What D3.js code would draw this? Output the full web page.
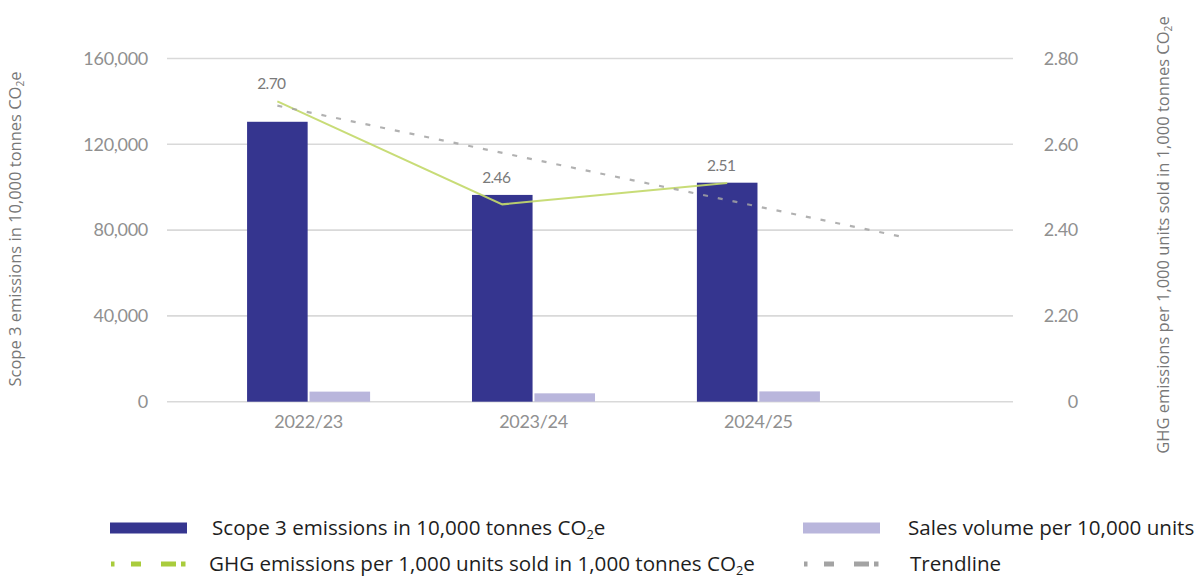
<!DOCTYPE html>
<html>
<head>
<meta charset="utf-8">
<script src="https://cdn.jsdelivr.net/npm/d3@7"></script>
<style>
  html, body { margin: 0; padding: 0; background: #ffffff; }
  svg { display: block; }
</style>
</head>
<body>
<svg id="chart" width="1201" height="578"></svg>
<script>
// ---- data ----
const categories = ["2022/23", "2023/24", "2024/25"];
const scope3Emissions = [130500, 96400, 102100];   // 10,000 tonnes CO2e
const salesVolume = [4700, 3900, 4800];            // per 10,000 units
const ghgPerUnit = [2.70, 2.46, 2.51];             // per 1,000 units sold, 1,000 tonnes CO2e
const trendValues = [2.69, 2.58, 2.47];            // linear trend of ghgPerUnit
const trendForecast = 0.78;                        // forward forecast, in periods
const leftTicks = [0, 40000, 80000, 120000, 160000];
const rightTicks = [2.0, 2.2, 2.4, 2.6, 2.8];

// ---- styling ----
const C = {
  scope3: "#35358f",
  sales: "#b9b6dc",
  ghg: "#c3d96b",
  ghgLegend: "#a9cc3c",
  trend: "#a3a3a3",
  grid: "#d9d9d9",
  tick: "#909090",
  title: "#777777",
  legendText: "#1e1e1e"
};
const tickFont = "Lato, 'Noto Sans', sans-serif";
const textFont = "'Open Sans', 'Noto Sans', sans-serif";

const svg = d3.select("#chart");

const plot = { left: 167, right: 1013, top: 58.5, bottom: 401.7 };

const yLeft = d3.scaleLinear().domain([0, 160000]).range([plot.bottom, plot.top]);
const yRight = d3.scaleLinear().domain([2.0, 2.8]).range([plot.bottom, plot.top]);

const x = d3.scaleBand().domain(categories).range([plot.left, 900])
  .paddingInner(0.453).paddingOuter(0.356);
const xSub = d3.scaleBand().domain(["scope3", "sales"]).range([0, x.bandwidth()])
  .paddingInner(0.03);

const lineX = c => x(c) + xSub("scope3") + xSub.bandwidth() / 2;
const periodX = d3.scaleLinear().domain([0, 1]).range([lineX(categories[0]), lineX(categories[1])]);

// ---- gridlines ----
svg.append("g").selectAll("line").data(leftTicks).join("line")
  .attr("x1", plot.left).attr("x2", plot.right)
  .attr("y1", d => yLeft(d)).attr("y2", d => yLeft(d))
  .attr("stroke", C.grid).attr("stroke-width", 1.6);

function styleTicks(g) {
  g.select(".domain").remove();
  g.selectAll("text").attr("fill", C.tick).attr("font-family", tickFont)
    .attr("font-size", 18).attr("letter-spacing", "-0.3px");
}

// ---- left axis ----
const fmtLeft = d3.format(",");
const leftAxis = d3.axisLeft(yLeft).tickValues(leftTicks).tickSize(0).tickPadding(0)
  .tickFormat(d => fmtLeft(d));
const gL = svg.append("g").attr("transform", `translate(148,0)`).call(leftAxis);
styleTicks(gL);

// ---- right axis ----
const rightAxis = d3.axisRight(yRight).tickValues(rightTicks).tickSize(0).tickPadding(0)
  .tickFormat(d => d === 2.0 ? "0" : d.toFixed(2));
const gR = svg.append("g").attr("transform", `translate(1078,0)`).call(rightAxis);
styleTicks(gR);
gR.selectAll("text").attr("text-anchor", "end");

// ---- x axis labels ----
const xAxis = d3.axisBottom(x).tickSize(0).tickPadding(0);
const gX = svg.append("g").attr("transform", `translate(0,${plot.bottom + 14})`).call(xAxis);
styleTicks(gX);

// ---- bars ----
const groups = svg.append("g").selectAll("g").data(categories).join("g")
  .attr("transform", c => `translate(${x(c)},0)`);
groups.append("rect")
  .attr("x", xSub("scope3")).attr("width", xSub.bandwidth())
  .attr("y", (c, i) => yLeft(scope3Emissions[i]))
  .attr("height", (c, i) => yLeft(0) - yLeft(scope3Emissions[i]))
  .attr("fill", C.scope3);
groups.append("rect")
  .attr("x", xSub("sales")).attr("width", xSub.bandwidth())
  .attr("y", (c, i) => yLeft(salesVolume[i]))
  .attr("height", (c, i) => yLeft(0) - yLeft(salesVolume[i]))
  .attr("fill", C.sales);

// ---- GHG intensity line ----
const ghgPts = categories.map((c, i) => [lineX(c), yRight(ghgPerUnit[i])]);
svg.append("path").attr("d", d3.line()(ghgPts))
  .attr("fill", "none").attr("stroke", C.ghg).attr("stroke-width", 2)
  .attr("stroke-opacity", 0.92);

// ---- trendline (linear fit, extended forward) ----
const n = trendValues.length;
const idx = d3.range(n);
const mx = d3.mean(idx), my = d3.mean(trendValues);
const slope = d3.sum(idx, i => (i - mx) * (trendValues[i] - my)) / d3.sum(idx, i => (i - mx) ** 2);
const icpt = my - slope * mx;
const tEnd = n - 1 + trendForecast;
svg.append("path")
  .attr("d", d3.line()([[periodX(0), yRight(icpt)], [periodX(tEnd), yRight(icpt + slope * tEnd)]]))
  .attr("fill", "none").attr("stroke", C.trend).attr("stroke-width", 2.2)
  .attr("stroke-dasharray", "5 10").attr("stroke-opacity", 0.85);

// ---- value labels ----
svg.append("g").selectAll("text").data(categories).join("text")
  .attr("x", c => lineX(c) - 6)
  .attr("y", (c, i) => Math.min(yRight(ghgPerUnit[i]), yLeft(scope3Emissions[i])) - 12)
  .attr("text-anchor", "middle")
  .attr("fill", "#7a7a7a").attr("font-family", tickFont).attr("font-size", 15.5)
  .attr("letter-spacing", "-0.6px")
  .text((c, i) => ghgPerUnit[i].toFixed(2));

// ---- helper for CO2e text (subscript 2) ----
function co2Text(sel, before, after, size) {
  const shift = size * 0.2;
  sel.append("tspan").text(before + "CO");
  sel.append("tspan").attr("font-size", size * 0.62).attr("dy", shift).text("2");
  sel.append("tspan").attr("dy", -shift).text("e" + after);
}

// ---- axis titles ----
const titleSize = 16.5;
const tl = svg.append("text")
  .attr("transform", `translate(21,229) rotate(-90)`)
  .attr("text-anchor", "middle").attr("fill", C.title)
  .attr("font-family", textFont).attr("font-size", titleSize);
co2Text(tl, "Scope 3 emissions in 10,000 tonnes ", "", titleSize);

const tr = svg.append("text")
  .attr("transform", `translate(1169,235) rotate(-90)`)
  .attr("text-anchor", "middle").attr("fill", C.title)
  .attr("font-family", textFont).attr("font-size", titleSize);
co2Text(tr, "GHG emissions per 1,000 units sold in 1,000 tonnes ", "", titleSize);

// ---- legend ----
const legendSize = 20.6;
const legendItems = [
  { type: "rect", color: C.scope3, x: 110, y: 528, label: ["Scope 3 emissions in 10,000 tonnes ", ""], co2: true, tx: 212 },
  { type: "rect", color: C.sales, x: 803, y: 528, label: ["Sales volume per 10,000 units"], co2: false, tx: 908 },
  { type: "dash", color: C.ghgLegend, x: 110, y: 564, label: ["GHG emissions per 1,000 units sold in 1,000 tonnes ", ""], co2: true, tx: 209 },
  { type: "dash", color: C.trend, x: 803, y: 564, label: ["Trendline"], co2: false, tx: 910 }
];
const lg = svg.append("g");
legendItems.forEach(it => {
  if (it.type === "rect") {
    lg.append("rect").attr("x", it.x).attr("y", it.y - 5.5).attr("width", 77).attr("height", 11)
      .attr("fill", it.color);
  } else {
    lg.append("line").attr("x1", it.x + 1).attr("x2", it.x + 77).attr("y1", it.y).attr("y2", it.y)
      .attr("stroke", it.color).attr("stroke-width", 5)
      .attr("stroke-dasharray", "3.5 16.5 10 20 15 5 4.5 100");
  }
  const t = lg.append("text").attr("x", it.tx).attr("y", it.y + 7)
    .attr("fill", C.legendText).attr("font-family", textFont).attr("font-size", legendSize);
  if (it.co2) co2Text(t, it.label[0], it.label[1], legendSize);
  else t.text(it.label[0]);
});
</script>
</body>
</html>
